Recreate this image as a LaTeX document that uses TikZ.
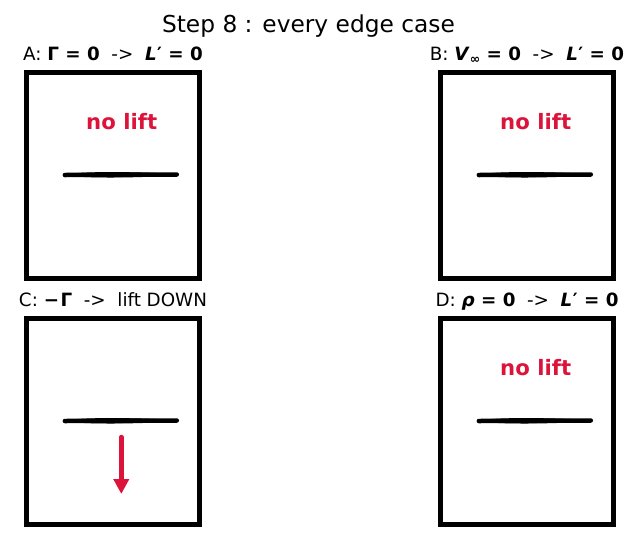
\documentclass[tikz,border=0pt]{standalone}
\usepackage{fontspec}
\setmainfont{DejaVu Sans}
\usetikzlibrary{arrows.meta}
\definecolor{crim}{RGB}{220,20,60}
\newcommand{\Lp}{\textbf{\textit{L}\kern0.5pt′ = 0}}
\begin{document}
\begin{tikzpicture}[x=1pt,y=-1pt,
  panel/.style={draw=black,line width=5pt,minimum width=173.4pt,minimum height=205.9pt,inner sep=0pt},
  ttl/.style={anchor=base,font=\fontsize{23.3}{26}\selectfont},
  lbl/.style={anchor=base,font=\fontsize{18.3}{20}\selectfont},
  nolift/.style={text=crim,font=\fontsize{21.2}{23}\selectfont\bfseries},
  downarrow/.style={draw=crim,line width=4.5pt,line cap=round,-{Triangle[width=15pt,length=15pt]}},
  pics/foil/.style={code={
    \draw[line width=4.5pt,line cap=round] (-56,0.2) -- (56,-0.3);
    \fill (-57,0) .. controls (-42,-4) and (20,-3) .. (56,-0.8) -- (56,0.6) .. controls (20,3) and (-42,4) .. (-57,0) -- cycle;
  }}]
\useasboundingbox (0,0) rectangle (640,539);
\node[ttl] (title) at (308.5,32.7) {Step 8 : every edge case};
% labels
\node[lbl] (labA) at (113,60) {A: \textbf{Γ = 0}\ \ ->\ \ \Lp};
\node[lbl] (labB) at (527,60) {B: \textbf{\textit{V}}\raisebox{-3.8pt}{\fontsize{12.5}{13}\selectfont\textbf{∞}}\textbf{ = 0}\ \ ->\ \ \Lp};
\node[lbl] (labC) at (113,306) {C: \textbf{−\kern1.5ptΓ}\ \ ->\ \ lift DOWN};
\node[lbl] (labD) at (527,306) {D: \textbf{\textit{ρ} = 0}\ \ ->\ \ \Lp};
% panels
\node[panel] (boxA) at (113,175.75) {};
\node[panel] (boxB) at (527,175.75) {};
\node[panel] (boxC) at (113,421.75) {};
\node[panel] (boxD) at (527,421.75) {};
% airfoils
\pic at (120.8,174.8) {foil};
\pic at (534.8,174.8) {foil};
\pic at (120.8,420.8) {foil};
\pic at (534.8,420.8) {foil};
% no lift
\node[nolift] (nlA) at (121.7,121.7) {no lift};
\node[nolift] (nlB) at (535.7,121.7) {no lift};
\node[nolift] (nlD) at (535.7,367.7) {no lift};
% down arrow
\coordinate (arrS) at (121.3,437);
\coordinate (arrE) at (121.3,494);
\draw[downarrow] (arrS) -- (arrE);
\end{tikzpicture}
\end{document}
